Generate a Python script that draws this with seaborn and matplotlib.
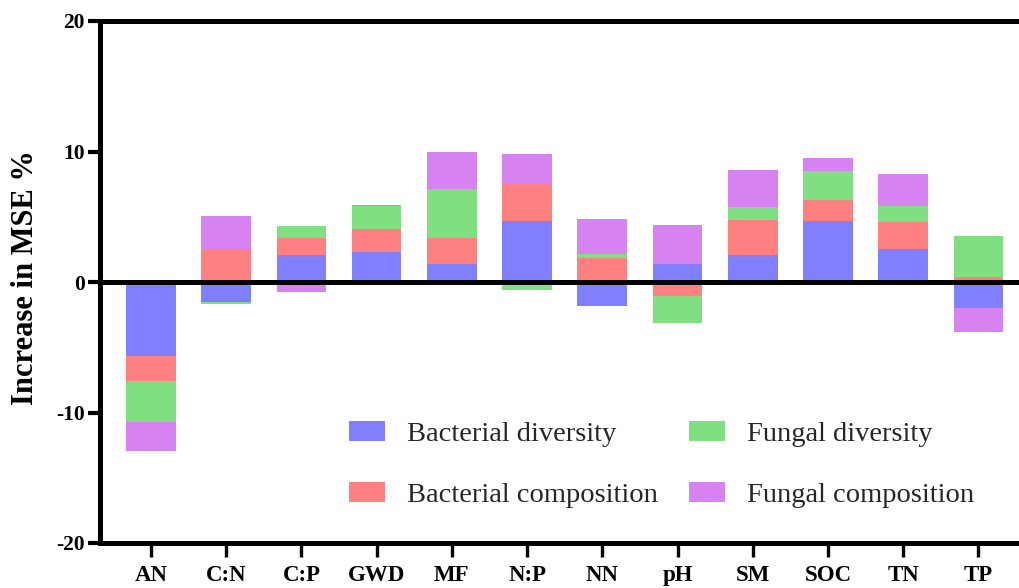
import numpy as np
import pandas as pd
import matplotlib
matplotlib.use("Agg")
import matplotlib.pyplot as plt
from matplotlib.patches import Patch
import seaborn as sns

# Soil factors on the x axis
categories = ["AN", "C:N", "C:P", "GWD", "MF", "N:P", "NN", "pH", "SM", "SOC", "TN", "TP"]

# Increase in MSE (%) per factor for each response
bacterial_diversity   = [-5.67, -1.55, 2.07, 2.30, 1.36, 4.70, -1.82, 1.36, 2.07, 4.70, 2.55, -1.97]
bacterial_composition = [-1.90, 2.45, 1.33, 1.76, 2.01, 2.81, 1.84, -1.05, 2.70, 1.58, 2.02, 0.35]
fungal_diversity      = [-3.17, -0.15, 0.89, 1.76, 3.76, -0.62, 0.31, -2.07, 1.00, 2.22, 1.23, 3.17]
fungal_composition    = [-2.20, 2.60, -0.75, 0.06, 2.81, 2.30, 2.65, 2.98, 2.83, 1.00, 2.48, -1.86]

series_names = ["Bacterial diversity", "Bacterial composition",
                "Fungal diversity", "Fungal composition"]
series_values = [bacterial_diversity, bacterial_composition,
                 fungal_diversity, fungal_composition]
series_colors = ["#8080FF", "#FF8080", "#80DF80", "#D682F0"]

y_ticks = [-20, -10, 0, 10, 20]

sns.set_theme(style="white")
plt.rcParams["font.family"] = ["Liberation Serif", "DejaVu Serif"]

fig = plt.figure(figsize=(10.19, 5.88), dpi=100)
ax = fig.add_axes([100 / 1019, 1 - 543 / 588, 1 - 100 / 1019, (543 - 21) / 588])

# Diverging stack: positive parts pile upward, negative parts downward
pos_base = np.zeros(len(categories))
neg_base = np.zeros(len(categories))
for name, vals, color in zip(series_names, series_values, series_colors):
    v = np.asarray(vals, dtype=float)
    pos = np.where(v > 0, v, 0.0)
    neg = np.where(v < 0, v, 0.0)
    sns.barplot(x=categories, y=pos, bottom=pos_base, order=categories,
                color=color, saturation=1, width=0.66, linewidth=0, ax=ax)
    sns.barplot(x=categories, y=neg, bottom=neg_base, order=categories,
                color=color, saturation=1, width=0.66, linewidth=0, ax=ax)
    pos_base = pos_base + pos
    neg_base = neg_base + neg

ax.axhline(0, color="black", lw=3.6, zorder=5)

ax.set_ylim(-20, 20)
ax.set_xlim(-0.678, 11.54)
ax.set_yticks(y_ticks)
ax.set_yticklabels([str(t) for t in y_ticks])

for side in ["left", "top", "bottom"]:
    ax.spines[side].set_visible(True)
    ax.spines[side].set_color("black")
    ax.spines[side].set_linewidth(3.6)
ax.spines["right"].set_visible(False)

ax.tick_params(axis="y", which="major", direction="out", length=9, width=3,
               left=True, labelsize=15.5, pad=2, color="black")
ax.tick_params(axis="x", which="major", direction="out", length=10, width=2.4,
               bottom=True, labelsize=16.5, pad=6, color="black")
for lab in ax.get_xticklabels() + ax.get_yticklabels():
    lab.set_fontweight("bold")
    lab.set_color("black")

ax.set_ylabel("Increase in MSE %", fontsize=22, fontweight="bold", color="black")
ax.yaxis.set_label_coords(-0.0653, 0.509)
ax.set_xlabel("")
ax.grid(False)

handles = [Patch(facecolor=c, edgecolor="none", label=n)
           for n, c in zip(series_names, series_colors)]
ax.legend(handles=handles, ncol=2, loc="upper left",
          bbox_to_anchor=(349 / 1019, 1 - 421 / 588), bbox_transform=fig.transFigure,
          frameon=False, fontsize=20.5, handlelength=1.27, handleheight=0.7,
          handletextpad=0.78, columnspacing=1.08, labelspacing=1.23,
          borderpad=0, borderaxespad=0)

fig.savefig("out.png", dpi=100, facecolor="white")
